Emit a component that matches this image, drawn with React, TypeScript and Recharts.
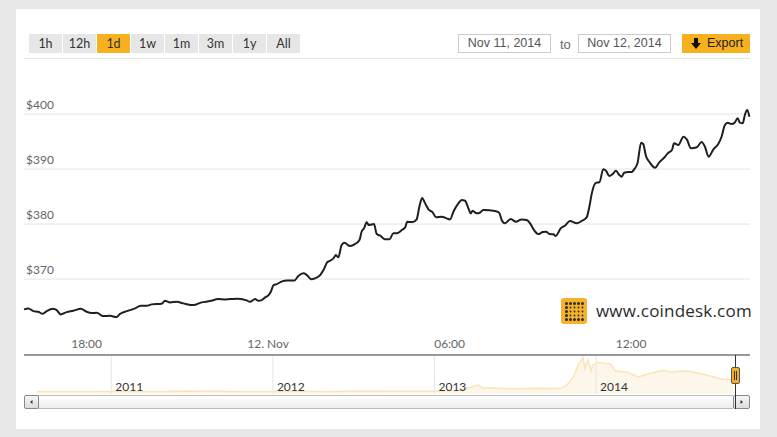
import React from 'react'
import { LineChart, Line, XAxis, YAxis, AreaChart, Area, ReferenceLine } from 'recharts'

// hours counted from Nov 11, 00:00
const hours = [
  15.93, 16.07, 16.24, 16.4, 16.55, 16.68, 16.9, 17.01, 17.14, 17.34, 17.56, 17.81, 18.0, 18.17, 18.33, 18.55,
  18.77, 18.99, 19.1, 19.33, 19.6, 19.79, 19.99, 20.15, 20.48, 20.59, 20.76, 20.98, 21.2, 21.53, 21.8, 22.08,
  22.35, 22.57, 22.74, 23.01, 23.29, 23.4, 23.57, 23.68, 23.79, 23.9, 24.01, 24.09, 24.18, 24.29, 24.46, 24.62,
  24.87, 25.0, 25.17, 25.28, 25.44, 25.55, 25.72, 25.83, 25.96, 26.05, 26.16, 26.24, 26.32, 26.43, 26.52, 26.71,
  26.87, 27.02, 27.09, 27.17, 27.26, 27.33, 27.5, 27.59, 27.73, 27.86, 28.01, 28.14, 28.25, 28.42, 28.53, 28.6,
  28.78, 28.91, 29.0, 29.09, 29.19, 29.3, 29.44, 29.55, 29.74, 29.9, 30.01, 30.14, 30.29, 30.4, 30.51, 30.62,
  30.7, 30.76, 30.89, 31.0, 31.11, 31.33, 31.5, 31.64, 31.72, 31.83, 32.02, 32.19, 32.38, 32.55, 32.66, 32.79,
  32.93, 33.08, 33.19, 33.3, 33.43, 33.51, 33.59, 33.67, 33.81, 33.98, 34.2, 34.36, 34.53, 34.62, 34.7, 34.84,
  34.95, 35.08, 35.17, 35.28, 35.39, 35.5, 35.61, 35.69, 35.77, 35.91, 36.02, 36.1, 36.21, 36.33, 36.4, 36.49,
  36.6, 36.79, 36.93, 37.12, 37.23, 37.35, 37.42, 37.56, 37.73, 37.84, 37.98, 38.17, 38.33, 38.44, 38.56, 38.72,
  38.88, 38.99, 39.1, 39.19, 39.32, 39.42, 39.52, 39.6, 39.69, 39.76, 39.84, 39.91,
]

const prices = [
  364.49, 364.67, 364.18, 364.05, 363.69, 364.18, 364.6, 364.36, 363.58, 364.0, 364.24, 364.6, 364.05, 363.82, 363.87, 363.27,
  363.33, 363.09, 363.64, 364.18, 364.67, 365.15, 365.15, 365.4, 365.51, 366.05, 365.76, 365.87, 365.58, 365.27, 365.76, 366.0,
  366.36, 366.31, 366.36, 366.42, 366.13, 365.87, 366.36, 366.05, 366.18, 366.67, 367.04, 367.69, 368.91, 369.09, 369.58, 369.76,
  369.76, 370.55, 371.04, 370.73, 369.95, 370.13, 370.73, 371.64, 373.09, 373.33, 373.76, 374.36, 373.95, 376.18, 376.6, 376.0,
  376.36, 377.09, 378.6, 379.22, 380.31, 379.82, 380.0, 378.18, 377.82, 377.22, 377.22, 378.31, 378.31, 378.91, 379.4, 380.42,
  380.36, 380.85, 383.15, 384.73, 383.76, 382.67, 382.13, 381.22, 381.33, 381.04, 380.85, 382.42, 383.76, 384.36, 384.24, 382.85,
  381.95, 382.42, 381.95, 382.05, 382.55, 382.49, 382.36, 382.05, 380.73, 380.13, 380.91, 380.42, 380.85, 380.73, 380.13, 378.91,
  378.18, 378.55, 378.6, 378.18, 378.13, 377.82, 378.42, 379.22, 379.7, 380.55, 380.13, 380.55, 381.22, 383.15, 385.58, 387.51,
  387.58, 389.95, 389.69, 388.73, 389.09, 389.69, 388.91, 388.6, 389.33, 389.45, 389.45, 389.95, 391.04, 394.78, 394.55, 392.36,
  391.33, 390.24, 391.22, 392.24, 392.96, 393.45, 394.67, 394.36, 395.87, 395.4, 393.76, 393.95, 394.91, 394.05, 392.24, 393.58,
  394.55, 395.87, 398.0, 398.42, 398.18, 398.42, 399.22, 398.42, 398.31, 399.82, 400.73, 399.51,
]

const xTicks = [18, 24, 30, 36]
const xTickLabels = ['18:00', '12. Nov', '06:00', '12:00']
const yTicks = [370, 380, 390, 400]

// navigator: whole price history
const navYears = [
  2010.54, 2010.75, 2010.95, 2011.15, 2011.35, 2011.45, 2011.6, 2011.8, 2012.0, 2012.3, 2012.6, 2012.85, 2013.0, 2013.15,
  2013.27, 2013.3, 2013.35, 2013.5, 2013.65, 2013.78, 2013.82, 2013.86, 2013.89, 2013.92, 2013.93, 2013.95, 2013.97, 2013.98,
  2014.01, 2014.09, 2014.12, 2014.19, 2014.26, 2014.32, 2014.42, 2014.46, 2014.54, 2014.6, 2014.66, 2014.77, 2014.85,
]
const navPrices = [
  0.06, 0.1, 0.3, 1, 8, 25, 12, 3, 5, 5, 11, 12, 13, 40,
  221, 119, 120, 95, 110, 102, 221, 503, 900, 1150, 800, 1070, 697, 900,
  980, 935, 697, 663, 493, 595, 721, 663, 697, 663, 595, 425, 391,
]
const navYearTicks = [2011, 2012, 2013, 2014]

const rangeButtons = ['1h', '12h', '1d', '1w', '1m', '3m', '1y', 'All']
const activeRange = '1d'
const fromDate = 'Nov 11, 2014'
const toDate = 'Nov 12, 2014'

const data = hours.map((t, i) => ({ t, price: prices[i] }))
const navData = navYears.map((year, i) => ({ year, price: navPrices[i] }))

const PLOT_LEFT = 24
const PLOT_RIGHT = 750
const AXIS_Y = 355
const FONT = 'Lato, "Open Sans", sans-serif'

const XTick = ({ x, payload }: any) => (
  <text x={x} y={AXIS_Y - 7} fill="#666" fontSize={12} fontFamily={FONT} textAnchor="middle">
    {xTickLabels[xTicks.indexOf(payload.value)]}
  </text>
)

const PriceLabel = (label: string) => ({ viewBox }: any) => (
  <text x={viewBox.x + 2} y={viewBox.y - 5} fill="#666" fontSize={12} fontFamily={FONT}>
    {label}
  </text>
)

const YearLabel = (label: string) => ({ viewBox }: any) => (
  <text x={viewBox.x + 4} y={viewBox.y + viewBox.height - 3} fill="#333" fontSize={12} fontFamily={FONT}>
    {label}
  </text>
)

function CoindeskIcon() {
  const dots = []
  for (let r = 0; r < 5; r++) {
    for (let c = 0; c < 5; c++) {
      const edge = r === 0 || r === 4 || c === 0
      dots.push(<circle key={r + '-' + c} cx={5 + c * 4} cy={5 + r * 4} r={edge ? 1.5 : 0.9} fill="#2a2a2a" />)
    }
  }
  return (
    <svg width={26} height={26}>
      <rect x={0} y={0} width={26} height={26} rx={3} fill="#f6b22a" />
      <g transform="translate(0.5,0.5)">{dots}</g>
    </svg>
  )
}

export default function App() {
  return (
    <div
      style={{
        position: 'absolute',
        left: 0,
        top: 0,
        width: 777,
        height: 437,
        background: '#e8e8e8',
        overflow: 'hidden',
        fontFamily: FONT,
      }}
    >
      <div style={{ position: 'absolute', left: 16, top: 9, width: 744, height: 420, background: '#fff' }} />

      {/* range buttons */}
      {rangeButtons.map((b, i) => (
        <div
          key={b}
          style={{
            position: 'absolute',
            left: 29 + i * 34,
            top: 34,
            width: 33,
            height: 19,
            background: b === activeRange ? '#f7b11e' : '#e6e6e6',
            color: '#333',
            fontSize: 12.5,
            lineHeight: '19px',
            textAlign: 'center',
          }}
        >
          {b}
        </div>
      ))}

      {/* dates + export */}
      {[fromDate, toDate].map((d, i) => (
        <div
          key={d}
          style={{
            position: 'absolute',
            left: i === 0 ? 458 : 578,
            top: 34,
            width: 91,
            height: 17,
            border: '1px solid #ccc',
            color: '#555',
            fontSize: 12.5,
            lineHeight: '17px',
            textAlign: 'center',
            fontFamily: '"Liberation Sans", Arial, sans-serif',
          }}
        >
          {d}
        </div>
      ))}
      <div
        style={{
          position: 'absolute',
          left: 560,
          top: 34,
          height: 19,
          lineHeight: '21px',
          color: '#666',
          fontSize: 13,
          fontFamily: '"Liberation Sans", Arial, sans-serif',
        }}
      >
        to
      </div>
      <div
        style={{
          position: 'absolute',
          left: 682,
          top: 34,
          width: 68,
          height: 19,
          background: '#f7b11e',
          color: '#222',
          fontSize: 12.5,
          lineHeight: '19px',
          fontFamily: '"Liberation Sans", Arial, sans-serif',
        }}
      >
        <svg width={10} height={11} style={{ position: 'absolute', left: 9, top: 4 }}>
          <rect x={3} y={0} width={4} height={5} fill="#111" />
          <polygon points="0,5 10,5 5,11" fill="#111" />
        </svg>
        <span style={{ position: 'absolute', left: 25, top: 0 }}>Export</span>
      </div>
      <div style={{ position: 'absolute', left: 24, top: 58, width: 726, height: 1, background: '#e6e6e6' }} />

      {/* main chart */}
      <div style={{ position: 'absolute', left: 0, top: 0 }}>
        <LineChart width={777} height={356} data={data} margin={{ top: 70, right: 777 - PLOT_RIGHT, bottom: 0, left: PLOT_LEFT }}>
          <XAxis
            dataKey="t"
            type="number"
            domain={[15.93, 39.93]}
            ticks={xTicks}
            height={1}
            tickLine={false}
            axisLine={{ stroke: '#333' }}
            tick={(p: any) => <XTick {...p} />}
          />
          <YAxis type="number" domain={[356.2, 408]} width={0} hide />
          {yTicks.map((v) => (
            <ReferenceLine key={v} y={v} stroke="#e3e3e3" label={PriceLabel('$' + v)} />
          ))}
          <Line
            type="monotone"
            dataKey="price"
            stroke="#1f1f1f"
            strokeWidth={2}
            dot={false}
            isAnimationActive={false}
          />
        </LineChart>
      </div>

      {/* watermark */}
      <div style={{ position: 'absolute', left: 561, top: 298 }}>
        <CoindeskIcon />
      </div>
      <div
        style={{
          position: 'absolute',
          left: 596,
          top: 299,
          fontSize: 17,
          color: '#2b2b2b',
          letterSpacing: 0.2,
          fontFamily: '"Open Sans", Lato, sans-serif',
        }}
      >
        www.coindesk.com
      </div>

      {/* navigator */}
      <div style={{ position: 'absolute', left: 0, top: 356 }}>
        <AreaChart width={777} height={38} data={navData} margin={{ top: 0, right: 42, bottom: 0, left: 37 }}>
          <XAxis dataKey="year" type="number" domain={[2010.54, 2014.86]} hide />
          <YAxis type="number" domain={[-80, 1200]} hide />
          {navYearTicks.map((yr) => (
            <ReferenceLine key={yr} x={yr} stroke="#e6e6e6" label={YearLabel(String(yr))} />
          ))}
          <Area
            type="linear"
            dataKey="price"
            stroke="#fde3b6"
            strokeWidth={1.5}
            fill="#fdf6ea"
            fillOpacity={1}
            baseValue={-80}
            isAnimationActive={false}
          />
        </AreaChart>
      </div>

      {/* scrollbar */}
      <div
        style={{
          position: 'absolute',
          left: 38,
          top: 395,
          width: 695,
          height: 12,
          borderTop: '1px solid #bbb',
          borderBottom: '1px solid #bbb',
          background: 'linear-gradient(#ffffff, #ececec)',
        }}
      />
      {[24, 733].map((x, i) => (
        <div
          key={x}
          style={{
            position: 'absolute',
            left: x,
            top: 395,
            width: i === 0 ? 13 : 15,
            height: 12,
            border: '1px solid #888',
            borderRadius: 2,
            background: 'linear-gradient(#f6f6f6, #dcdcdc)',
          }}
        >
          <svg width={i === 0 ? 13 : 15} height={12} style={{ position: 'absolute', left: 0, top: 0 }}>
            {i === 0 ? (
              <polygon points="7.5,4 7.5,8 5,6" fill="#333" />
            ) : (
              <polygon points="6.5,4 6.5,8 9,6" fill="#333" />
            )}
          </svg>
        </div>
      ))}

      {/* navigator handle */}
      <div style={{ position: 'absolute', left: 735, top: 355, width: 1, height: 54, background: '#333' }} />
      <div
        style={{
          position: 'absolute',
          left: 731,
          top: 367,
          width: 7,
          height: 15,
          background: '#f7b11e',
          border: '1px solid #555',
          borderRadius: 2,
        }}
      >
        <div style={{ position: 'absolute', left: 2, top: 3, width: 1, height: 9, background: '#333' }} />
        <div style={{ position: 'absolute', left: 4, top: 3, width: 1, height: 9, background: '#333' }} />
      </div>
    </div>
  )
}
